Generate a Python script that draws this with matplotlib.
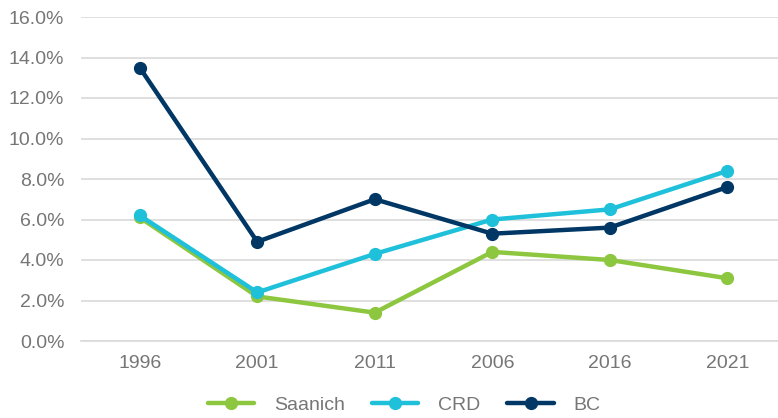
import matplotlib
matplotlib.use("Agg")
import matplotlib.pyplot as plt
from matplotlib.ticker import FuncFormatter

plt.rcParams['font.family'] = ['Liberation Sans', 'DejaVu Sans']

years = ["1996", "2001", "2011", "2006", "2016", "2021"]
saanich = [6.1, 2.2, 1.4, 4.4, 4.0, 3.1]
crd = [6.2, 2.4, 4.3, 6.0, 6.5, 8.4]
bc = [13.5, 4.9, 7.0, 5.3, 5.6, 7.6]

series = [("Saanich", saanich, "#8DC63F"), ("CRD", crd, "#1FC0DA"), ("BC", bc, "#003764")]

fig = plt.figure(figsize=(7.78, 4.18), dpi=100)
ax = fig.add_axes([81/778, 1 - 341/418, 705/778, 324/418])

x = list(range(len(years)))
for name, vals, col in series:
    ax.plot(x, vals, color=col, lw=3.2, marker='o', ms=8.5, label=name, solid_capstyle='round')

ax.set_xlim(-0.5, len(years) - 0.5)
ax.set_ylim(0, 16)
ax.set_yticks([i * 2 for i in range(9)])
ax.yaxis.set_major_formatter(FuncFormatter(lambda v, p: f"{v:.1f}%"))
ax.set_xticks(x)
ax.set_xticklabels(years)
ax.grid(axis='y', color='#D9D9D9', lw=1.2)
ax.set_axisbelow(True)
for s in ax.spines.values():
    s.set_visible(False)
ax.spines['bottom'].set_visible(True)
ax.spines['bottom'].set_color('#D9D9D9')
ax.spines['bottom'].set_linewidth(1.2)
ax.tick_params(axis='both', length=0, labelsize=14, labelcolor='#767676')
ax.tick_params(axis='y', pad=12)
ax.tick_params(axis='x', pad=10)

leg = fig.legend(loc='center', bbox_to_anchor=(404/778, 1 - 405/418), ncol=3, frameon=False,
                 fontsize=14, handlelength=2.4, columnspacing=1.4, handletextpad=1.0)
for t in leg.get_texts():
    t.set_color('#767676')

fig.savefig("out.png", dpi=100)
